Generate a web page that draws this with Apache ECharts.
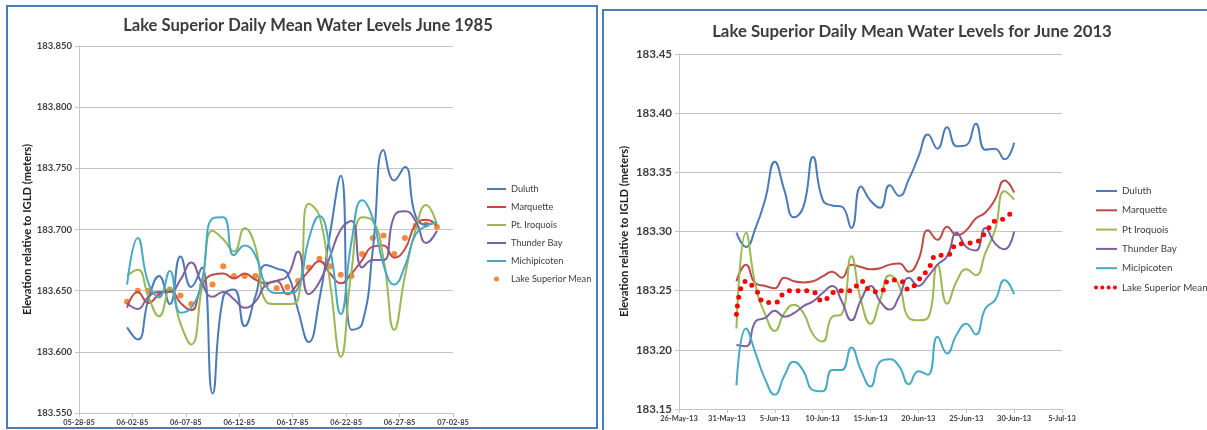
<html>
<head>
<meta charset="utf-8">
<title>Lake Superior water levels</title>
<script src="https://cdn.jsdelivr.net/npm/echarts@6/dist/echarts.min.js"></script>
<style>
  body { margin: 0; background: #ffffff; }
  #c85 { position: absolute; left: 0; top: 0; width: 600px; height: 430px; }
  #c13 { position: absolute; left: 600px; top: 0; width: 607px; height: 430px; }
</style>
<script type="text/javascript">

// June 1985, one value a day (June 1 .. June 30)
var xLabels85 = ['05-28-85', '06-02-85', '06-07-85', '06-12-85', '06-17-85', '06-22-85', '06-27-85', '07-02-85'];
var duluth85 = [183.620, 183.610, 183.643, 183.662, 183.639, 183.678, 183.653, 183.669, 183.566, 183.645,
                183.651, 183.621, 183.645, 183.671, 183.668, 183.664, 183.634, 183.608, 183.643, 183.697,
                183.744, 183.618, 183.623, 183.684, 183.765, 183.740, 183.751, 183.711, 183.704, 183.706];
var marquette85 = [183.636, 183.649, 183.640, 183.647, 183.651, 183.640, 183.634, 183.654, 183.663, 183.664,
                   183.660, 183.664, 183.659, 183.656, 183.658, 183.647, 183.656, 183.666, 183.674, 183.664,
                   183.656, 183.664, 183.675, 183.686, 183.687, 183.677, 183.684, 183.704, 183.708, 183.703];
var iroquois85 = [183.662, 183.667, 183.645, 183.629, 183.652, 183.623, 183.606, 183.653, 183.699, 183.692,
                  183.682, 183.701, 183.686, 183.641, 183.639, 183.639, 183.643, 183.721, 183.711, 183.656,
                  183.596, 183.666, 183.710, 183.707, 183.676, 183.618, 183.662, 183.700, 183.720, 183.704];
var thunder85 = [183.640, 183.635, 183.645, 183.649, 183.649, 183.659, 183.673, 183.656, 183.645, 183.649,
                 183.643, 183.636, 183.641, 183.655, 183.658, 183.662, 183.682, 183.647, 183.657, 183.678,
                 183.700, 183.707, 183.669, 183.675, 183.675, 183.711, 183.715, 183.707, 183.689, 183.699];
var michi85 = [183.655, 183.693, 183.656, 183.645, 183.666, 183.632, 183.636, 183.658, 183.709, 183.710,
               183.679, 183.687, 183.679, 183.654, 183.648, 183.648, 183.652, 183.692, 183.711, 183.684,
               183.631, 183.690, 183.724, 183.709, 183.671, 183.655, 183.670, 183.696, 183.703, 183.706];
var mean85 = [183.641, 183.650, 183.650, 183.646, 183.651, 183.646, 183.639, 183.654, 183.655, 183.670,
              183.662, 183.662, 183.662, 183.655, 183.652, 183.653, 183.658, 183.669, 183.676, 183.670,
              183.663, 183.662, 183.680, 183.693, 183.695, 183.680, 183.693, 183.703, 183.704, 183.702];

// June 2013, one value a day (June 1 .. June 30)
var xLabels13 = ['26-May-13', '31-May-13', '5-Jun-13', '10-Jun-13', '15-Jun-13', '20-Jun-13', '25-Jun-13', '30-Jun-13', '5-Jul-13'];
var duluth13 = [183.299, 183.287, 183.303, 183.327, 183.359, 183.335, 183.312, 183.321, 183.363, 183.327,
                183.322, 183.321, 183.303, 183.338, 183.326, 183.320, 183.339, 183.330, 183.344, 183.363,
                183.382, 183.370, 183.388, 183.372, 183.373, 183.391, 183.369, 183.370, 183.361, 183.375];
var marquette13 = [183.258, 183.272, 183.256, 183.254, 183.252, 183.261, 183.258, 183.257, 183.258, 183.262,
                   183.266, 183.261, 183.272, 183.270, 183.268, 183.269, 183.272, 183.273, 183.266, 183.276,
                   183.301, 183.293, 183.304, 183.297, 183.301, 183.311, 183.316, 183.327, 183.343, 183.333];
var iroquois13 = [183.218, 183.299, 183.254, 183.230, 183.216, 183.231, 183.238, 183.231, 183.213, 183.207,
                  183.228, 183.230, 183.279, 183.242, 183.222, 183.242, 183.263, 183.254, 183.227, 183.225,
                  183.227, 183.272, 183.239, 183.258, 183.268, 183.263, 183.282, 183.301, 183.334, 183.327];
var thunder13 = [183.204, 183.203, 183.224, 183.227, 183.233, 183.228, 183.231, 183.237, 183.241, 183.248,
                 183.254, 183.241, 183.225, 183.242, 183.254, 183.241, 183.234, 183.245, 183.261, 183.254,
                 183.262, 183.272, 183.279, 183.299, 183.287, 183.284, 183.303, 183.290, 183.285, 183.300];
var mici13 = [183.170, 183.218, 183.197, 183.175, 183.162, 183.178, 183.190, 183.182, 183.166, 183.165,
              183.183, 183.183, 183.202, 183.183, 183.169, 183.190, 183.192, 183.186, 183.171, 183.182,
              183.179, 183.211, 183.197, 183.213, 183.222, 183.213, 183.235, 183.242, 183.259, 183.247];
var mean13 = [183.230, 183.258, 183.251, 183.240, 183.240, 183.248, 183.250, 183.250, 183.249, 183.241,
              183.248, 183.250, 183.250, 183.258, 183.250, 183.249, 183.259, 183.259, 183.251, 183.259,
              183.268, 183.280, 183.280, 183.289, 183.290, 183.291, 183.299, 183.309, 183.311, 183.319];

var FONT = 'Lato, "Open Sans", sans-serif';
var TXT = '#3c3c3c';
var GRID = '#c4c4c4';

// day of June -> days after first axis date
function pairs85(vals) { return vals.map((v, i) => [4.5 + i, v]); }   // 05-28 + 4.5
function pairs13(vals) { return vals.map((v, i) => [6 + i, v]); }     // 26-May + 6 = 1-Jun

function lineSeries(name, color, data) {
  return { name: name, type: 'line', data: data, smooth: 0.5, symbol: 'none',
           color: color, lineStyle: { width: 2, color: color } };
}

function axes(xl, ymin, ymax, dec, xfont, yfont, ngap) {
  return {
    xAxis: { type: 'value', min: 0, max: (xl.length - 1) * 5, interval: 5,
      axisLine: { lineStyle: { color: GRID } },
      axisTick: { length: 4, lineStyle: { color: GRID } },
      splitLine: { show: false },
      axisLabel: { formatter: v => xl[Math.round(v / 5)], fontFamily: FONT, fontWeight: 'bold',
                   fontSize: xfont, color: TXT, margin: 6 } },
    yAxis: { type: 'value', min: ymin, max: ymax, interval: 0.05,
      name: 'Elevation relative to IGLD (meters)', nameLocation: 'middle', nameGap: ngap,
      nameMoveOverlap: false,
      nameTextStyle: { fontFamily: FONT, fontWeight: 'bold', fontSize: 11.2, color: '#222' },
      axisLine: { show: true, lineStyle: { color: GRID } },
      axisTick: { show: true, length: 4, lineStyle: { color: GRID } },
      splitLine: { lineStyle: { color: GRID } },
      axisLabel: { formatter: v => v.toFixed(dec), fontFamily: FONT, fontWeight: 'bold',
                   fontSize: yfont, color: TXT, margin: 7 } }
  };
}

function init() {
  var c1 = echarts.init(document.getElementById('c85'), null, { renderer: 'canvas' });
  var a1 = axes(xLabels85, 183.55, 183.85, 3, 7.5, 9.5, 46);
  c1.setOption({
    animation: false,
    title: { text: 'Lake Superior Daily Mean Water Levels June 1985', left: 303, top: 12, textAlign: 'center',
             textStyle: { fontFamily: FONT, fontWeight: 'bold', fontSize: 16.6, color: TXT } },
    graphic: [{ type: 'rect', shape: { x: 7, y: 6, width: 590, height: 422 },
                style: { fill: 'none', stroke: '#4a7ebb', lineWidth: 2 } }],
    grid: { left: 79, top: 46, width: 374, height: 367 },
    xAxis: a1.xAxis, yAxis: a1.yAxis,
    legend: { orient: 'vertical', left: 486, top: 183, padding: 0, itemWidth: 19, itemHeight: 5, itemGap: 6,
              itemStyle: { opacity: 0 },
              textStyle: { fontFamily: FONT, fontSize: 9.2, color: TXT, lineHeight: 12 },
              data: ['Duluth', 'Marquette', 'Pt. Iroquois', 'Thunder Bay', 'Michipicoten',
                     { name: 'Lake Superior Mean', itemStyle: { opacity: 1 } }] },
    series: [
      lineSeries('Duluth', '#4a7ab8', pairs85(duluth85)),
      lineSeries('Marquette', '#be4b48', pairs85(marquette85)),
      lineSeries('Pt. Iroquois', '#98b954', pairs85(iroquois85)),
      lineSeries('Thunder Bay', '#7d60a0', pairs85(thunder85)),
      lineSeries('Michipicoten', '#46aac4', pairs85(michi85)),
      { name: 'Lake Superior Mean', type: 'scatter', data: pairs85(mean85), symbolSize: 6,
        itemStyle: { color: '#f58a3c', opacity: 1 } }
    ]
  });

  var c2 = echarts.init(document.getElementById('c13'), null, { renderer: 'canvas' });
  var a2 = axes(xLabels13, 183.15, 183.45, 2, 7.5, 11.5, 49);
  c2.setOption({
    animation: false,
    title: { text: 'Lake Superior Daily Mean Water Levels for June 2013', left: 307, top: 18, textAlign: 'center',
             textStyle: { fontFamily: FONT, fontWeight: 'bold', fontSize: 16.8, color: TXT } },
    graphic: [{ type: 'rect', shape: { x: 3, y: 10, width: 640, height: 440 },
                style: { fill: 'none', stroke: '#4a7ebb', lineWidth: 2 } }],
    grid: { left: 79, top: 54, width: 383, height: 355 },
    xAxis: a2.xAxis, yAxis: a2.yAxis,
    legend: { orient: 'vertical', left: 494, top: 185, padding: 0, itemWidth: 21, itemHeight: 5, itemGap: 7.3,
              itemStyle: { opacity: 0 },
              textStyle: { fontFamily: FONT, fontSize: 9.8, color: TXT, lineHeight: 12 },
              data: ['Duluth', 'Marquette', 'Pt Iroquois', 'Thunder Bay', 'Micipicoten',
                     { name: 'Lake Superior Mean', lineStyle: { type: [0, 6.3], width: 4, cap: 'round' } }] },
    series: [
      lineSeries('Duluth', '#4a7ab8', pairs13(duluth13)),
      lineSeries('Marquette', '#be4b48', pairs13(marquette13)),
      lineSeries('Pt Iroquois', '#98b954', pairs13(iroquois13)),
      lineSeries('Thunder Bay', '#7d60a0', pairs13(thunder13)),
      lineSeries('Micipicoten', '#46aac4', pairs13(mici13)),
      { name: 'Lake Superior Mean', type: 'line', data: pairs13(mean13), smooth: 0.5, symbol: 'none',
        color: '#ff0000', lineStyle: { color: '#ff0000', width: 5, type: [0, 8.6], cap: 'round' } }
    ]
  });
}
</script>
</head>
<body onload="init();">
  <div id="c85"></div>
  <div id="c13"></div>
</body>
</html>
